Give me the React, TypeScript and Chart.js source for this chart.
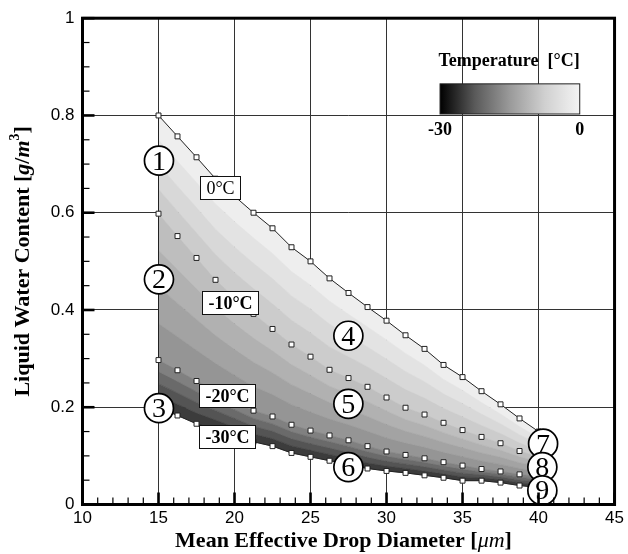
import { useEffect, useRef } from 'react';
import { Chart, registerables } from 'chart.js';

Chart.register(...registerables);

// ---------- data ----------
const diameterUm = [15, 16.25, 17.5, 18.75, 20, 21.25, 22.5, 23.75, 25, 26.25, 27.5, 28.75, 30, 31.25, 32.5, 33.75, 35, 36.25, 37.5, 38.75, 40];
const lwcAt0C = [0.8, 0.757, 0.714, 0.67, 0.634, 0.6, 0.568, 0.529, 0.5, 0.465, 0.435, 0.406, 0.378, 0.348, 0.32, 0.287, 0.262, 0.233, 0.206, 0.177, 0.15];
const lwcAtMinus10C = [0.598, 0.552, 0.507, 0.462, 0.425, 0.392, 0.361, 0.329, 0.304, 0.277, 0.26, 0.242, 0.22, 0.199, 0.185, 0.168, 0.153, 0.139, 0.126, 0.11, 0.098];
const lwcAtMinus20C = [0.297, 0.276, 0.254, 0.233, 0.213, 0.193, 0.181, 0.164, 0.152, 0.142, 0.132, 0.12, 0.109, 0.102, 0.095, 0.087, 0.08, 0.073, 0.068, 0.062, 0.057];
const lwcAtMinus30C = [0.2, 0.183, 0.166, 0.154, 0.141, 0.129, 0.12, 0.106, 0.098, 0.09, 0.082, 0.074, 0.069, 0.065, 0.06, 0.055, 0.049, 0.049, 0.045, 0.039, 0.035];

const xTickLabels = ['10', '15', '20', '25', '30', '35', '40', '45'];
const yTickLabels = ['0', '0.2', '0.4', '0.6', '0.8', '1'];

const isothermLabels = ['0°C', '-10°C', '-20°C', '-30°C'];
const caseLabels = ['1', '2', '3', '4', '5', '6', '7', '8', '9'];
const colorbarLabels = ['-30', '0'];

// ---------- annotation placement (data coordinates) ----------
const isothermBoxAt = [
  [19.07, 0.652],
  [19.69, 0.415],
  [19.53, 0.224],
  [19.53, 0.139],
];
const caseCircleAt = [
  [15.03, 0.707],
  [15.03, 0.463],
  [15.03, 0.198],
  [27.49, 0.347],
  [27.49, 0.207],
  [27.49, 0.077],
  [40.3, 0.125],
  [40.25, 0.077],
  [40.25, 0.029],
];

// ---------- styles ----------
const SERIF = '"Liberation Serif", "Times New Roman", serif';
const SANS = '"Liberation Sans", Arial, sans-serif';
const bandGreys = [238, 227, 216, 204, 190, 177, 163, 149, 128, 106, 84, 60];
const BANDS_PER_GAP = 4;

const pt = (d: number[], v: number[]) => d.map((x, i) => ({ x, y: v[i] }));

const bandsPlugin = {
  id: 'bands',
  beforeDatasetsDraw(chart: any) {
    const { ctx, chartArea, scales } = chart;
    const xs = scales.x, ys = scales.y;
    const lines = [lwcAt0C, lwcAtMinus10C, lwcAtMinus20C, lwcAtMinus30C];
    ctx.save();
    ctx.beginPath();
    ctx.rect(chartArea.left, chartArea.top, chartArea.right - chartArea.left, chartArea.bottom - chartArea.top);
    ctx.clip();
    let k = 0;
    for (let g = 0; g < lines.length - 1; g++) {
      for (let j = 0; j < BANDS_PER_GAP; j++) {
        const t0 = j / BANDS_PER_GAP, t1 = (j + 1) / BANDS_PER_GAP;
        ctx.beginPath();
        diameterUm.forEach((d, i) => {
          const ya = ys.getPixelForValue(lines[g][i]);
          const yb = ys.getPixelForValue(lines[g + 1][i]);
          const px = xs.getPixelForValue(d);
          const py = ya + (yb - ya) * t0;
          if (i === 0) ctx.moveTo(px, py); else ctx.lineTo(px, py);
        });
        for (let i = diameterUm.length - 1; i >= 0; i--) {
          const ya = ys.getPixelForValue(lines[g][i]);
          const yb = ys.getPixelForValue(lines[g + 1][i]);
          ctx.lineTo(xs.getPixelForValue(diameterUm[i]), ya + (yb - ya) * t1);
        }
        ctx.closePath();
        const c = bandGreys[k];
        ctx.fillStyle = `rgb(${c},${c},${c})`;
        ctx.strokeStyle = `rgb(${c},${c},${c})`;
        ctx.lineWidth = 0.6;
        ctx.fill();
        ctx.stroke();
        k++;
      }
    }
    // left edge of region
    ctx.beginPath();
    ctx.strokeStyle = '#222';
    ctx.lineWidth = 1;
    const lx = xs.getPixelForValue(diameterUm[0]);
    ctx.moveTo(lx, ys.getPixelForValue(lwcAt0C[0]));
    ctx.lineTo(lx, ys.getPixelForValue(lwcAtMinus30C[0]));
    ctx.stroke();
    ctx.restore();
  },
};

function drawSegments(ctx: CanvasRenderingContext2D, segs: { t: string; f: string; dy?: number }[], cx: number, cy: number) {
  let total = 0;
  segs.forEach((s) => { ctx.font = s.f; total += ctx.measureText(s.t).width; });
  let x = cx - total / 2;
  ctx.textAlign = 'left';
  ctx.textBaseline = 'middle';
  segs.forEach((s) => {
    ctx.font = s.f;
    ctx.fillText(s.t, x, cy + (s.dy || 0));
    x += ctx.measureText(s.t).width;
  });
}

const annotationsPlugin = {
  id: 'annotations',
  afterDatasetsDraw(chart: any) {
    const { ctx, scales } = chart;
    const xs = scales.x, ys = scales.y;
    ctx.save();
    // isotherm boxes
    isothermLabels.forEach((lab, i) => {
      const cx = xs.getPixelForValue(isothermBoxAt[i][0]);
      const cy = ys.getPixelForValue(isothermBoxAt[i][1]);
      ctx.font = (i === 0 ? '' : 'bold ') + `18px ${SERIF}`;
      const w = Math.round(ctx.measureText(lab).width + 12);
      const h = 23;
      const bx = Math.round(cx - w / 2), by = Math.round(cy - h / 2);
      ctx.fillStyle = '#fff';
      ctx.fillRect(bx, by, w, h);
      ctx.strokeStyle = '#111';
      ctx.lineWidth = 1;
      ctx.strokeRect(bx + 0.5, by + 0.5, w, h);
      ctx.fillStyle = '#000';
      ctx.textAlign = 'center';
      ctx.textBaseline = 'middle';
      ctx.fillText(lab, bx + w / 2 + 0.5, by + h / 2 + 1.5);
    });
    // numbered circles
    caseLabels.forEach((lab, i) => {
      const cx = xs.getPixelForValue(caseCircleAt[i][0]);
      const cy = ys.getPixelForValue(caseCircleAt[i][1]);
      ctx.beginPath();
      ctx.arc(cx, cy, 14.5, 0, Math.PI * 2);
      ctx.fillStyle = '#fff';
      ctx.fill();
      ctx.lineWidth = 1.7;
      ctx.strokeStyle = '#000';
      ctx.stroke();
      ctx.fillStyle = '#000';
      ctx.font = `28px ${SERIF}`;
      ctx.textAlign = 'center';
      ctx.textBaseline = 'middle';
      ctx.fillText(lab, cx, cy + 1.5);
    });
    // colorbar
    const bx0 = xs.getPixelForValue(33.52), bx1 = xs.getPixelForValue(42.71);
    const by0 = ys.getPixelForValue(0.865), by1 = ys.getPixelForValue(0.803);
    const grad = ctx.createLinearGradient(bx0, 0, bx1, 0);
    grad.addColorStop(0, '#000');
    grad.addColorStop(0.25, '#5a5a5a');
    grad.addColorStop(0.5, '#9a9a9a');
    grad.addColorStop(0.75, '#d0d0d0');
    grad.addColorStop(1, '#f4f4f4');
    ctx.fillStyle = grad;
    ctx.fillRect(bx0, by0, bx1 - bx0, by1 - by0);
    ctx.strokeStyle = '#222';
    ctx.lineWidth = 1;
    ctx.strokeRect(bx0, by0, bx1 - bx0, by1 - by0);
    ctx.fillStyle = '#000';
    ctx.font = `bold 18px ${SERIF}`;
    ctx.textAlign = 'center';
    ctx.textBaseline = 'middle';
    ctx.fillText('Temperature  [°C]', xs.getPixelForValue(38.06), ys.getPixelForValue(0.911));
    const ly = ys.getPixelForValue(0.769);
    ctx.fillText(colorbarLabels[0], bx0, ly);
    ctx.fillText(colorbarLabels[1], bx1, ly);
    ctx.restore();
  },
  afterDraw(chart: any) {
    const { ctx, chartArea, scales } = chart;
    const xs = scales.x, ys = scales.y;
    const { left, right, top, bottom } = chartArea;
    ctx.save();
    ctx.strokeStyle = '#000';
    // minor + major ticks (inward)
    for (let v = 10; v <= 45; v += 1) {
      const px = xs.getPixelForValue(v);
      const major = v % 5 === 0;
      ctx.lineWidth = major ? 2.6 : 1.2;
      ctx.beginPath();
      ctx.moveTo(px, bottom);
      ctx.lineTo(px, bottom - (major ? 12 : 7));
      ctx.stroke();
    }
    for (let k = 0; k <= 20; k++) {
      const v = k * 0.05;
      const py = ys.getPixelForValue(v);
      const major = k % 4 === 0;
      ctx.lineWidth = major ? 2.6 : 1.2;
      ctx.beginPath();
      ctx.moveTo(left, py);
      ctx.lineTo(left + (major ? 12 : 7), py);
      ctx.stroke();
    }
    ctx.lineWidth = 3;
    ctx.strokeRect(left, top, right - left, bottom - top);
    // axis titles
    ctx.fillStyle = '#000';
    drawSegments(ctx, [
      { t: 'Mean Effective Drop Diameter [', f: `bold 22px ${SERIF}` },
      { t: 'μm', f: `italic 22px ${SERIF}` },
      { t: ']', f: `bold 22px ${SERIF}` },
    ], (left + right) / 2 - 5, 541);
    ctx.translate(23, (top + bottom) / 2);
    ctx.rotate(-Math.PI / 2);
    drawSegments(ctx, [
      { t: 'Liquid Water Content [', f: `bold 22px ${SERIF}` },
      { t: 'g', f: `bold italic 22px ${SERIF}` },
      { t: '/', f: `bold 22px ${SERIF}` },
      { t: 'm', f: `bold italic 22px ${SERIF}` },
      { t: '3', f: `bold 14px ${SERIF}`, dy: -8 },
      { t: ']', f: `bold 22px ${SERIF}` },
    ], 0, 0);
    ctx.restore();
  },
};

export default function App() {
  const ref = useRef<HTMLCanvasElement>(null);
  useEffect(() => {
    const markerStyle = {
      pointStyle: 'rect' as const,
      pointRadius: 3.5,
      pointBackgroundColor: '#fff',
      pointBorderColor: '#222',
      pointBorderWidth: 1,
    };
    const chart = new Chart(ref.current!, {
      type: 'line',
      data: {
        datasets: [
          { label: '0°C', data: pt(diameterUm, lwcAt0C), borderColor: '#222', borderWidth: 1, fill: false, ...markerStyle },
          { label: '-10°C', data: pt(diameterUm, lwcAtMinus10C), showLine: false, ...markerStyle },
          { label: '-20°C', data: pt(diameterUm, lwcAtMinus20C), showLine: false, ...markerStyle },
          { label: '-30°C', data: pt(diameterUm, lwcAtMinus30C), borderColor: '#222', borderWidth: 1, fill: false, ...markerStyle },
        ],
      },
      options: {
        animation: false,
        responsive: false,
        devicePixelRatio: 1,
        layout: { padding: { top: 17.5, right: 11, left: 0, bottom: 0 } },
        plugins: { legend: { display: false }, tooltip: { enabled: false } },
        scales: {
          x: {
            type: 'linear',
            min: 10,
            max: 45,
            ticks: {
              stepSize: 5,
              autoSkip: false,
              maxRotation: 0,
              padding: 4,
              color: '#000',
              font: { family: SANS, size: 17 },
              callback: (_v: any, i: number) => xTickLabels[i],
            },
            grid: { color: '#333', lineWidth: 1, drawTicks: false },
            border: { display: false },
            afterFit: (s: any) => { s.height = 49.5; },
          },
          y: {
            type: 'linear',
            min: 0,
            max: 1,
            ticks: {
              stepSize: 0.2,
              autoSkip: false,
              padding: 8,
              color: '#000',
              font: { family: SANS, size: 17 },
              callback: (_v: any, i: number) => yTickLabels[i],
            },
            grid: { color: '#333', lineWidth: 1, drawTicks: false },
            border: { display: false },
            afterFit: (s: any) => { s.width = 82.5; },
          },
        },
      },
      plugins: [bandsPlugin, annotationsPlugin],
    } as any);
    return () => chart.destroy();
  }, []);
  return (
    <div style={{ position: 'absolute', left: 0, top: 0, width: 628, height: 554, background: '#fff' }}>
      <canvas ref={ref} width={628} height={554} style={{ display: 'block', width: 628, height: 554 }} />
    </div>
  );
}
